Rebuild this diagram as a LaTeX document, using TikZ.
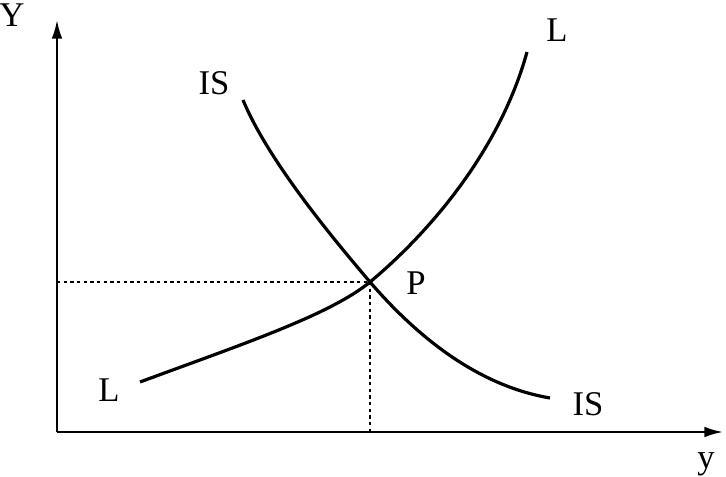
\documentclass[tikz,border=0pt]{standalone}
\usepackage{fontspec}
\setmainfont{Liberation Serif}
\usetikzlibrary{arrows.meta}
\begin{document}
\begin{tikzpicture}[x=0.75pt,y=-0.75pt,
  lbl/.style={font=\fontsize{26}{28}\selectfont, inner sep=0pt},
  axis/.style={line width=1.6pt,-{Latex[length=14pt,width=8pt]}},
  curve/.style={line width=2.4pt},
  guide/.style={line width=1.1pt, dash pattern=on 2.5pt off 2.5pt}]
\useasboundingbox (0,0) rectangle (726,477);
\coordinate (O) at (57,432);
\coordinate (Ytop) at (57,20);
\coordinate (Xend) at (723,432);
\draw[axis] (O) -- (Ytop);
\draw[axis] (O) -- (Xend);
\coordinate (P) at (370,282);
\coordinate (Py) at (57,282);
\coordinate (Px) at (370,432);
\draw[guide] (Py) -- (P);
\draw[guide] (P) -- (Px);
\coordinate (IS1) at (243,100);
\coordinate (IS2) at (550,398);
\coordinate (L1) at (140,382);
\coordinate (L2) at (527,52);
\draw[curve] (IS1) .. controls (268,160) and (330,235) .. (P) .. controls (420,340) and (480,386) .. (IS2);
\draw[curve] (L1) .. controls (240,345) and (330,315) .. (P) .. controls (430,232) and (500,150) .. (L2);
\node[lbl] (Ylab) at (12,15) {Y};
\node[lbl, anchor=base] (ylab) at (706,469) {y};
\node[lbl] (IStop) at (214,83) {IS};
\node[lbl] (Ltop) at (557,30) {L};
\node[lbl] (Pl) at (416,283) {P};
\node[lbl] (Lbot) at (109,390) {L};
\node[lbl] (ISbot) at (588,404) {IS};
\end{tikzpicture}
\end{document}
